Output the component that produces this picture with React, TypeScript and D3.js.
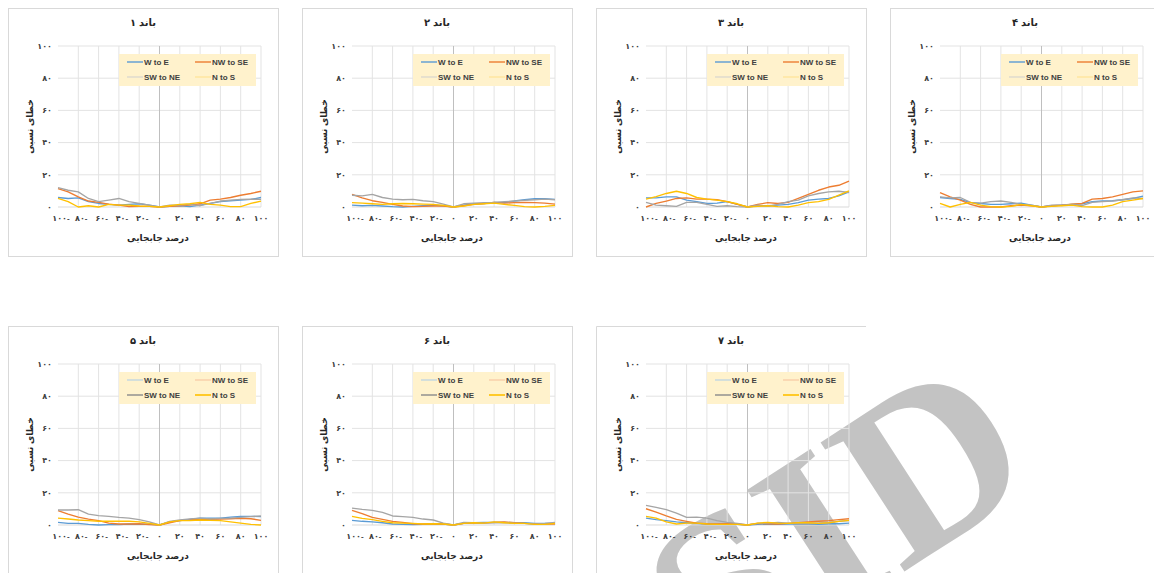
import React from 'react';
import * as d3 from 'd3';

const xValues = [-100, -90, -80, -70, -60, -50, -40, -30, -20, -10, 0, 10, 20, 30, 40, 50, 60, 70, 80, 90, 100];
const xTicks = [-100, -80, -60, -40, -20, 0, 20, 40, 60, 80, 100];
const yTicks = [0, 20, 40, 60, 80, 100];
const seriesNames = ['W to E', 'NW to SE', 'SW to NE', 'N to S'];
const bandTitles = ['باند ۱', 'باند ۲', 'باند ۳', 'باند ۴', 'باند ۵', 'باند ۶', 'باند ۷'];
const yAxisTitle = 'خطای نسبی';
const xAxisTitle = 'درصد جابجایی';

// band 1
const band1WtoE = [5.9, 5.3, 5.7, 3.3, 2.2, 1.6, 1.2, 1.6, 2, 1.2, 0, 0.4, 0.8, 0.2, 1.2, 2.2, 3.3, 3.9, 4.3, 4.7, 5.9];
const band1NWtoSE = [11.4, 9.4, 6.3, 3.7, 2.9, 1.8, 1.2, 0.2, 0.4, 0.4, 0, 0.4, 0.8, 1.2, 2, 4.3, 4.9, 5.9, 7.3, 8.4, 9.8];
const band1SWtoNE = [12, 10.4, 9.4, 5.3, 3.3, 4.3, 5.3, 3.3, 2.2, 1.2, 0, 1.2, 1.2, 1.6, 0.8, 2.2, 3.7, 4.3, 4.7, 4.9, 4.7];
const band1NtoS = [5.3, 3.3, 0, 0.8, 0, 1.6, 1.2, 1.2, 0.6, 0.4, 0, 0.8, 1.6, 2, 2.9, 1.6, 1.2, 0.2, 0.2, 2.2, 3.7];
// band 2
const band2WtoE = [1.2, 0.8, 1, 0.6, 0.2, 0, 0.4, 0.8, 1.2, 0.8, 0, 1.2, 2, 2.2, 2.9, 2.7, 3.7, 4.5, 5.1, 5.1, 4.7];
const band2NWtoSE = [7.8, 5.7, 3.9, 2.9, 1.6, 0.6, 0.2, 0.4, 0.6, 0.6, 0, 0.8, 1.6, 2.2, 2.9, 2.4, 2.7, 2.9, 2.7, 2.4, 1.8];
const band2SWtoNE = [7.3, 6.9, 7.8, 5.9, 4.9, 4.5, 4.7, 3.9, 3.3, 1.8, 0, 2, 2.4, 2.7, 2.9, 3.3, 3.7, 4.1, 4.5, 4.9, 4.5];
const band2NtoS = [2.7, 2.4, 2, 1.6, 2, 2.2, 2, 1.8, 1.6, 1, 0, 0.6, 1.6, 2, 2.4, 1.6, 1, 0.2, 0, 0.4, 1];
// band 3
const band3WtoE = [5.7, 5.7, 6.3, 6.3, 4.3, 3.3, 2.2, 2.4, 3.3, 1.6, 0, 0.8, 0.8, 1.2, 1.6, 2.7, 4.3, 4.9, 5.3, 6.9, 9.4];
const band3NWtoSE = [0, 2.2, 3.7, 5.3, 5.7, 4.9, 4.9, 4.5, 3.3, 1.6, 0, 1.6, 2.7, 2.2, 2.9, 5.3, 7.8, 10.4, 12.4, 13.5, 16.1];
const band3SWtoNE = [2.9, 1.2, 0.8, 0.4, 2.9, 2.9, 1.6, 0.4, 0.8, 0.2, 0, 1.2, 0.4, 1.6, 3.3, 4.3, 6.9, 8.4, 9.4, 9.8, 9];
const band3NtoS = [4.9, 6.5, 8.4, 9.8, 8.4, 5.9, 4.9, 4.3, 3.3, 2, 0, 0.4, 0.8, 0.2, 0, 1.2, 2.7, 3.3, 4.7, 7.3, 10];
// band 4
const band4WtoE = [5.9, 5.3, 4.7, 2.7, 2.2, 1.6, 1.6, 2, 2.4, 1.2, 0, 0.8, 1.2, 1.6, 2, 3.3, 3.7, 3.9, 4.5, 5.3, 6.7];
const band4NWtoSE = [9, 6.3, 4.3, 1.6, 0, 0, 0, 0.8, 1.2, 0.8, 0, 0.8, 1.2, 1.8, 2.2, 4.9, 5.3, 6.3, 7.8, 9.4, 10];
const band4SWtoNE = [6.3, 5.7, 5.9, 2.9, 2.4, 3.3, 3.7, 2.9, 1.6, 1.2, 0, 1.2, 1.2, 1.6, 0.8, 2.9, 3.3, 3.7, 4.5, 5.7, 5.3];
const band4NtoS = [2.2, 0, 1.6, 2.9, 1.2, 0.2, 0, 0.4, 1.6, 0.8, 0, 0.4, 0.8, 1.2, 0.2, 0, 0, 1.2, 3.3, 4.3, 5.3];
// band 5
const band5WtoE = [1.6, 1, 1, 0.4, 0, 0.2, 0.2, 0.6, 0.4, 0.6, 0, 1.9, 2.7, 3.5, 4.3, 4.3, 4.3, 4.9, 5.4, 5.4, 5.2];
const band5NWtoSE = [8.9, 6.8, 4.9, 3.7, 2.7, 1.2, 0.6, 0.6, 0.8, 0.2, 0, 1.4, 2.7, 3.3, 3.7, 3.5, 3.7, 3.9, 4.1, 3.9, 2.9];
const band5SWtoNE = [9.3, 9.3, 9.5, 6.8, 5.8, 5.4, 4.7, 4.3, 3.3, 1.9, 0, 2.3, 3.1, 3.7, 4.3, 3.7, 4.1, 4.3, 4.7, 5.2, 5.6];
const band5NtoS = [4.3, 3.7, 3.1, 2.7, 2.3, 2.3, 2.3, 2.3, 1.9, 1, 0, 1.9, 2.7, 2.7, 3.1, 2.9, 2.7, 1.9, 1.2, 0.4, 0];
// band 6
const band6WtoE = [2.9, 2.3, 1.9, 1.4, 0.6, 0.4, 0.2, 0.4, 0.8, 0.6, 0, 1, 1.4, 1.6, 1.6, 1.6, 1.4, 1.4, 1, 1, 1.2];
const band6NWtoSE = [9.1, 7, 4.7, 3.5, 2.3, 1.6, 0.8, 0.6, 0.6, 0.6, 0, 1, 1.2, 1.2, 1.6, 1.9, 1.4, 1, 0.8, 0.6, 0.6];
const band6SWtoNE = [10.5, 9.7, 9.1, 7.8, 5.6, 5.2, 4.7, 3.7, 3.1, 1.2, 0, 1.6, 1.4, 1.2, 1.4, 1.4, 1.2, 1, 0.6, 1, 1.6];
const band6NtoS = [5.4, 4.1, 3.3, 2.3, 1.4, 1.2, 1, 0.6, 0.8, 0.6, 0, 1, 1.4, 1.2, 1.9, 1.4, 1, 1, 0.4, 0.4, 1];
// band 7
const band7WtoE = [4.3, 3.3, 2.7, 1.9, 1.4, 1, 0.6, 0.4, 0.6, 0.4, 0, 0.4, 0.6, 0.4, 0.6, 0.6, 0.6, 0.4, 0.8, 0.8, 1.2];
const band7NWtoSE = [10.1, 8, 5.6, 3.5, 2.3, 1.2, 0.8, 0.6, 0.8, 0.6, 0, 1, 0.8, 0.6, 1, 1.4, 1.9, 2.3, 2.7, 3.3, 3.9];
const band7SWtoNE = [12.2, 10.9, 9.5, 7.4, 4.7, 4.9, 4.3, 2.7, 1.6, 1, 0, 1, 1.2, 1.6, 1.2, 0.8, 0.8, 1, 1.4, 2.3, 2.7];
const band7NtoS = [5.4, 4.3, 1.9, 0.6, 1.2, 1.2, 0.6, 0.4, 0.4, 0.4, 0, 1.2, 1.6, 1.2, 1, 1.4, 1.4, 1, 1.4, 2.3, 2.9];

const bands = [
  [band1WtoE, band1NWtoSE, band1SWtoNE, band1NtoS],
  [band2WtoE, band2NWtoSE, band2SWtoNE, band2NtoS],
  [band3WtoE, band3NWtoSE, band3SWtoNE, band3NtoS],
  [band4WtoE, band4NWtoSE, band4SWtoNE, band4NtoS],
  [band5WtoE, band5NWtoSE, band5SWtoNE, band5NtoS],
  [band6WtoE, band6NWtoSE, band6SWtoNE, band6NtoS],
  [band7WtoE, band7NWtoSE, band7SWtoNE, band7NtoS],
];

const lineColors = ['#5b9bd5', '#ed7d31', '#a5a5a5', '#ffc000'];
const legendColorsTop = ['#5b9bd5', '#ed7d31', '#cfcfcf', '#ffe08a'];
const legendColorsBottom = ['#a9cbe9', '#f6bf9a', '#8a8a8a', '#ffc000'];

const FONT = "'Liberation Sans', 'DejaVu Sans', sans-serif";
const FA_DIGITS = '۰۱۲۳۴۵۶۷۸۹';
const toFa = (n: number) =>
  String(Math.abs(n)).replace(/\d/g, (d) => FA_DIGITS[+d]) + (n < 0 ? '-' : '');

const PANEL_W = 270;
const PANEL_H = 248;

function Panel({ index }: { index: number }) {
  const col = index % 4;
  const row = Math.floor(index / 4);
  const ox = 8 + col * 294;
  const oy = 8 + row * 318;
  const x = d3.scaleLinear().domain([-100, 100]).range([50, 253]);
  const y = d3.scaleLinear().domain([0, 100]).range([199, 38]);
  const line = d3
    .line<number>()
    .x((_, i) => x(xValues[i]))
    .y((d) => y(d));
  const series = bands[index];
  const legendColors = row === 0 ? legendColorsTop : legendColorsBottom;
  const legendWidths = row === 0 ? [1.4, 1.4, 1, 1] : [1, 1, 1.4, 1.6];
  const legendX = 111;
  const legendY = 46;
  const legendItems = [
    { lx: 8, ly: 8 },
    { lx: 76, ly: 8 },
    { lx: 8, ly: 23 },
    { lx: 76, ly: 23 },
  ];
  const isLastBottom = index === 6;
  return (
    <g transform={`translate(${ox},${oy})`}>
      {isLastBottom ? (
        <path d={`M${PANEL_W},0.5H0.5V${PANEL_H}`} fill="none" stroke="#d9d9d9" strokeWidth={1} />
      ) : (
        <rect x={0.5} y={0.5} width={PANEL_W} height={PANEL_H} fill="none" stroke="#d9d9d9" strokeWidth={1} />
      )}
      <text
        x={135}
        y={18}
        textAnchor="middle"
        fontFamily={FONT}
        fontWeight="bold"
        fontSize={10}
        fill="#262626"
      >
        {bandTitles[index]}
      </text>
      {/* gridlines */}
      {yTicks
        .filter((t) => t > 0)
        .map((t) => (
          <line key={'h' + t} x1={x(-100)} x2={x(100)} y1={y(t)} y2={y(t)} stroke="#e3e3e3" strokeWidth={1} />
        ))}
      {xTicks
        .filter((t) => t > -100 && t !== 0)
        .map((t) => (
          <line key={'v' + t} x1={x(t)} x2={x(t)} y1={y(100)} y2={y(0)} stroke="#e3e3e3" strokeWidth={1} />
        ))}
      <line x1={x(-100)} x2={x(100)} y1={y(0)} y2={y(0)} stroke="#d9d9d9" strokeWidth={1} />
      <line x1={x(0)} x2={x(0)} y1={y(100)} y2={y(0)} stroke="#bfbfbf" strokeWidth={1} />
      {/* y tick labels */}
      {yTicks.map((t) => (
        <text
          key={'yl' + t}
          x={44}
          y={y(t)}
          dy="0.35em"
          textAnchor="end"
          fontFamily={FONT}
          fontWeight="bold"
          fontSize={8}
          fill="#404040"
        >
          {toFa(t)}
        </text>
      ))}
      {/* x tick labels */}
      {xTicks.map((t) => (
        <text
          key={'xl' + t}
          x={x(t) + (t < 0 ? 3 : 0)}
          y={213}
          textAnchor="middle"
          fontFamily={FONT}
          fontWeight="bold"
          fontSize={8}
          fill="#404040"
        >
          {toFa(t)}
        </text>
      ))}
      <text
        x={150}
        y={233}
        textAnchor="middle"
        fontFamily={FONT}
        fontWeight="bold"
        fontSize={9}
        fill="#262626"
      >
        {xAxisTitle}
      </text>
      <text
        transform={`translate(25,${(y(0) + y(100)) / 2}) rotate(-90)`}
        textAnchor="middle"
        fontFamily={FONT}
        fontWeight="bold"
        fontSize={9}
        fill="#262626"
      >
        {yAxisTitle}
      </text>
      {/* series */}
      {series.map((s, i) => (
        <path
          key={'s' + i}
          d={line(s) || ''}
          fill="none"
          stroke={lineColors[i]}
          strokeWidth={1.35}
          strokeLinejoin="round"
        />
      ))}
      {/* legend */}
      <g transform={`translate(${legendX},${legendY})`}>
        <rect x={0} y={0} width={137} height={32} fill="#fff2cc" />
        {seriesNames.map((n, i) => (
          <g key={'lg' + i} transform={`translate(${legendItems[i].lx},${legendItems[i].ly})`}>
            <line x1={0} x2={16} y1={0} y2={0} stroke={legendColors[i]} strokeWidth={legendWidths[i]} />
            <text
              x={17}
              y={0}
              dy="0.35em"
              fontFamily={FONT}
              fontWeight="bold"
              fontSize={8}
              fill="#404040"
            >
              {n}
            </text>
          </g>
        ))}
      </g>
    </g>
  );
}

export default function App() {
  return (
    <svg
      width={1154}
      height={573}
      style={{ position: 'absolute', left: 0, top: 0, background: '#ffffff' }}
    >
      <rect x={0} y={0} width={1154} height={573} fill="#ffffff" />
      <text
        x={879}
        y={588}
        textAnchor="middle"
        fontFamily="'Liberation Serif', 'DejaVu Serif', serif"
        fontWeight="bold"
        fontSize={235}
        fill="#c3c3c3"
        transform="rotate(-33 879 588)"
      >
        SID
      </text>
      {bands.map((_, i) => (
        <Panel key={i} index={i} />
      ))}
    </svg>
  );
}
